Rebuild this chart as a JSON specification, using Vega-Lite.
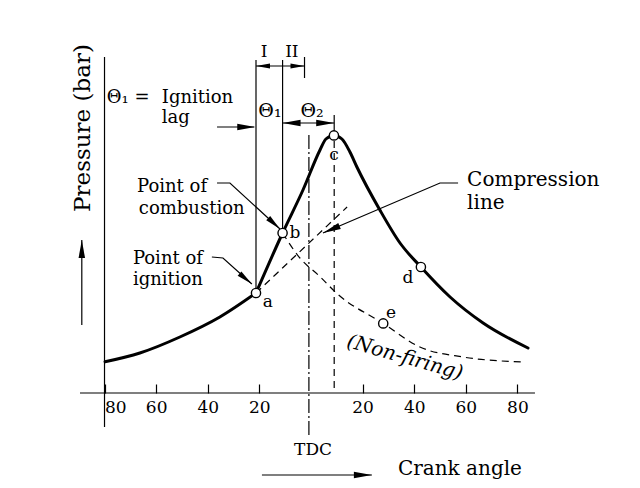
{
  "$schema": "https://vega.github.io/schema/vega-lite/v6.json",
  "width": 640,
  "height": 488,
  "autosize": {"type": "fit", "contains": "padding"},
  "padding": 0,
  "background": "white",
  "config": {"view": {"stroke": null}},
  "datasets": {
    "fire": [
      {"seg": "pre", "x": -79.8, "y": 7.8},
      {"seg": "pre", "x": -66.3, "y": 10},
      {"seg": "pre", "x": -50.8, "y": 14},
      {"seg": "pre", "x": -35.3, "y": 19},
      {"seg": "pre", "x": -21.3, "y": 25},
      {"seg": "main", "x": -21.3, "y": 25},
      {"seg": "main", "x": -11, "y": 40},
      {"seg": "main", "x": -3.1, "y": 50.75},
      {"seg": "main", "x": 3.5, "y": 60.75},
      {"seg": "main", "x": 5.8, "y": 63.5},
      {"seg": "main", "x": 8.9, "y": 64.4},
      {"seg": "main", "x": 12, "y": 63.5},
      {"seg": "main", "x": 15.1, "y": 60.25},
      {"seg": "main", "x": 17.8, "y": 56.5},
      {"seg": "main", "x": 26.7, "y": 45.75},
      {"seg": "main", "x": 34.5, "y": 37.5},
      {"seg": "main", "x": 42.6, "y": 31.5},
      {"seg": "main", "x": 53.9, "y": 24},
      {"seg": "main", "x": 66.7, "y": 17.5},
      {"seg": "main", "x": 84.1, "y": 11.25}
    ],
    "dashed": [
      {"id": "nonfiring", "o": 1, "x": -11, "y": 40},
      {"id": "nonfiring", "o": 2, "x": -4.3, "y": 33.75},
      {"id": "nonfiring", "o": 3, "x": 3.5, "y": 29.1},
      {"id": "nonfiring", "o": 4, "x": 10, "y": 24.9},
      {"id": "nonfiring", "o": 5, "x": 28, "y": 17.4},
      {"id": "nonfiring", "o": 6, "x": 42.2, "y": 11.5},
      {"id": "nonfiring", "o": 7, "x": 58.9, "y": 9},
      {"id": "nonfiring", "o": 8, "x": 82.2, "y": 7.75},
      {"id": "compression", "o": 1, "x": -21.3, "y": 25},
      {"id": "compression", "o": 2, "x": 14, "y": 46.5},
      {"id": "cline", "o": 1, "x": 9, "y": 63},
      {"id": "cline", "o": 2, "x": 9, "y": 0.5}
    ],
    "dashdot": [
      {"id": "tdc", "o": 1, "x": -0.8, "y": 64.5},
      {"id": "tdc", "o": 2, "x": -0.8, "y": -11}
    ],
    "thin": [
      {"id": "yaxis", "o": 1, "x": -80, "y": 84},
      {"id": "yaxis", "o": 2, "x": -80, "y": -8.5},
      {"id": "xaxis", "o": 1, "x": -89.5, "y": 0},
      {"id": "xaxis", "o": 2, "x": 86.8, "y": 0},
      {"id": "ign", "o": 1, "x": -21.3, "y": 83.25},
      {"id": "ign", "o": 2, "x": -21.3, "y": 25},
      {"id": "comb", "o": 1, "x": -11, "y": 83.25},
      {"id": "comb", "o": 2, "x": -11, "y": 40},
      {"id": "IIend", "o": 1, "x": -2.5, "y": 84},
      {"id": "IIend", "o": 2, "x": -2.5, "y": 78.75},
      {"id": "bracket", "o": 1, "x": -21.3, "y": 81.75},
      {"id": "bracket", "o": 2, "x": -2.5, "y": 81.75},
      {"id": "theta2", "o": 1, "x": -11, "y": 67.5},
      {"id": "theta2", "o": 2, "x": 9, "y": 67.5},
      {"id": "ctick", "o": 1, "x": 9, "y": 69.5},
      {"id": "ctick", "o": 2, "x": 9, "y": 64.4},
      {"id": "lagarrow", "o": 1, "x": -36.4, "y": 66.5},
      {"id": "lagarrow", "o": 2, "x": -22, "y": 66.5},
      {"id": "leadComb", "o": 1, "x": -36.4, "y": 52.5},
      {"id": "leadComb", "o": 2, "x": -31.4, "y": 52.5},
      {"id": "leadComb", "o": 3, "x": -12, "y": 41},
      {"id": "leadIgn", "o": 1, "x": -38.4, "y": 34},
      {"id": "leadIgn", "o": 2, "x": -34.1, "y": 33.75},
      {"id": "leadIgn", "o": 3, "x": -22.9, "y": 27.25},
      {"id": "leadComp", "o": 1, "x": 57, "y": 52.5},
      {"id": "leadComp", "o": 2, "x": 50, "y": 52.5},
      {"id": "leadComp", "o": 3, "x": 4.65, "y": 40},
      {"id": "parrow", "o": 1, "x": -88.8, "y": 38.25},
      {"id": "parrow", "o": 2, "x": -88.8, "y": 17},
      {"id": "carrow", "o": 1, "x": -19, "y": -20.5},
      {"id": "carrow", "o": 2, "x": 23.6, "y": -20.5}
    ],
    "pts": [
      {"p": "a", "x": -21.3, "y": 25},
      {"p": "b", "x": -11, "y": 40},
      {"p": "c", "x": 8.9, "y": 64.4},
      {"p": "d", "x": 42.6, "y": 31.5},
      {"p": "e", "x": 28, "y": 17.4}
    ],
    "heads": [
      {"kind": "small", "x": -21.3, "y": 81.75, "dir": 180},
      {"kind": "small", "x": -2.5, "y": 81.75, "dir": 0},
      {"kind": "big", "x": -11, "y": 67.5, "dir": 180},
      {"kind": "big", "x": 9, "y": 67.5, "dir": 0},
      {"kind": "big", "x": -21.6, "y": 66.5, "dir": 0},
      {"kind": "big", "x": 4.65, "y": 40, "dir": 157},
      {"kind": "mid", "x": -12, "y": 41, "dir": 43},
      {"kind": "mid", "x": -22.9, "y": 27.25, "dir": 40},
      {"kind": "big", "x": -88.8, "y": 38.25, "dir": 270},
      {"kind": "big", "x": 23.6, "y": -20.5, "dir": 0}
    ],
    "leftText": [
      {"t": "Point of", "x": -67.4, "y": 50.25},
      {"t": "combustion", "x": -66.7, "y": 44.75},
      {"t": "Point of", "x": -69, "y": 32.25},
      {"t": "ignition", "x": -69, "y": 27},
      {"t": "Θ₁ =", "x": -79.1, "y": 72.5},
      {"t": "Ignition", "x": -57.8, "y": 72.5},
      {"t": "lag", "x": -57.8, "y": 67.5}
    ],
    "bigText": [
      {"t": "Compression", "x": 60.5, "y": 51.75},
      {"t": "line", "x": 60.5, "y": 46},
      {"t": "Crank angle", "x": 33.7, "y": -20.5}
    ],
    "centerText": [
      {"t": "TDC", "x": 0.8, "y": -15.5},
      {"t": "I", "x": -18.2, "y": 84},
      {"t": "II", "x": -7.4, "y": 84},
      {"t": "a", "x": -16.7, "y": 21.5},
      {"t": "b", "x": -6.2, "y": 38.75},
      {"t": "c", "x": 8.9, "y": 58.25},
      {"t": "d", "x": 37.6, "y": 27.5},
      {"t": "e", "x": 31, "y": 18.75}
    ],
    "thetaText": [
      {"t": "Θ₁", "x": -15.9, "y": 69},
      {"t": "Θ₂", "x": 0.4, "y": 69}
    ],
    "ytitle": [
      {"t": "Pressure (bar)", "x": -88.4, "y": 66.25}
    ],
    "nf": [
      {"t": "(Non-firing)", "x": 36.4, "y": 8.9}
    ]
  },
  "encoding": {
    "x": {
      "field": "x",
      "type": "quantitative",
      "scale": {"domain": [-120.5, 127.5], "nice": false, "zero": false},
      "axis": {
        "values": [-80, -60, -40, -20, 20, 40, 60, 80],
        "labelExpr": "'' + abs(datum.value)",
        "labelAlign": {"condition": {"test": "datum.value == -80", "value": "left"}, "value": "center"},
        "offset": -95,
        "domain": false,
        "grid": false,
        "tickSize": -9,
        "tickColor": "black",
        "tickWidth": 1.2,
        "labelFont": "DejaVu Serif",
        "labelFontSize": 17,
        "labelColor": "black",
        "labelPadding": 15,
        "labelFlush": false,
        "labelOverlap": false,
        "title": null
      }
    },
    "y": {
      "field": "y",
      "type": "quantitative",
      "scale": {"domain": [-23.75, 98.25], "nice": false, "zero": false},
      "axis": null
    }
  },
  "layer": [
    {
      "data": {"name": "thin"},
      "mark": {"type": "line", "color": "black", "strokeWidth": 1.2},
      "encoding": {"detail": {"field": "id"}, "order": {"field": "o"}}
    },
    {
      "data": {"name": "dashed"},
      "mark": {"type": "line", "color": "black", "strokeWidth": 1.2, "strokeDash": [7, 5], "interpolate": "monotone"},
      "encoding": {"detail": {"field": "id"}, "order": {"field": "o"}}
    },
    {
      "data": {"name": "dashdot"},
      "mark": {"type": "line", "color": "black", "strokeWidth": 1.2, "strokeDash": [14, 3, 2, 3]},
      "encoding": {"detail": {"field": "id"}, "order": {"field": "o"}}
    },
    {
      "data": {"name": "fire"},
      "mark": {"type": "line", "color": "black", "strokeWidth": 3, "interpolate": "monotone", "strokeCap": "round", "strokeJoin": "round"},
      "encoding": {"detail": {"field": "seg"}}
    },
    {
      "data": {"name": "pts"},
      "mark": {"type": "point", "shape": "circle", "filled": true, "fill": "white", "stroke": "black", "strokeWidth": 1.4, "size": 85, "opacity": 1}
    },
    {
      "data": {"name": "heads"},
      "mark": {"type": "point", "shape": "M0,0L-2,-0.36L-2,0.36Z", "filled": true, "color": "black", "opacity": 1},
      "encoding": {
        "angle": {"field": "dir", "type": "quantitative", "scale": null},
        "size": {"field": "kind", "type": "nominal", "scale": {"domain": ["big", "mid", "small"], "range": [324, 196, 64]}, "legend": null}
      }
    },
    {
      "data": {"name": "leftText"},
      "mark": {"type": "text", "font": "DejaVu Serif", "fontSize": 18, "align": "left", "baseline": "alphabetic", "color": "black"},
      "encoding": {"text": {"field": "t"}}
    },
    {
      "data": {"name": "bigText"},
      "mark": {"type": "text", "font": "DejaVu Serif", "fontSize": 20, "align": "left", "baseline": "alphabetic", "color": "black"},
      "encoding": {"text": {"field": "t"}}
    },
    {
      "data": {"name": "centerText"},
      "mark": {"type": "text", "font": "DejaVu Serif", "fontSize": 17, "align": "center", "baseline": "alphabetic", "color": "black"},
      "encoding": {"text": {"field": "t"}}
    },
    {
      "data": {"name": "thetaText"},
      "mark": {"type": "text", "font": "DejaVu Serif", "fontSize": 19, "align": "center", "baseline": "alphabetic", "color": "black"},
      "encoding": {"text": {"field": "t"}}
    },
    {
      "data": {"name": "ytitle"},
      "mark": {"type": "text", "font": "DejaVu Serif", "fontSize": 23, "align": "center", "baseline": "middle", "angle": 270, "color": "black"},
      "encoding": {"text": {"field": "t"}}
    },
    {
      "data": {"name": "nf"},
      "mark": {"type": "text", "font": "DejaVu Serif", "fontStyle": "italic", "fontSize": 20, "align": "center", "baseline": "middle", "angle": 16, "color": "black"},
      "encoding": {"text": {"field": "t"}}
    }
  ]
}
